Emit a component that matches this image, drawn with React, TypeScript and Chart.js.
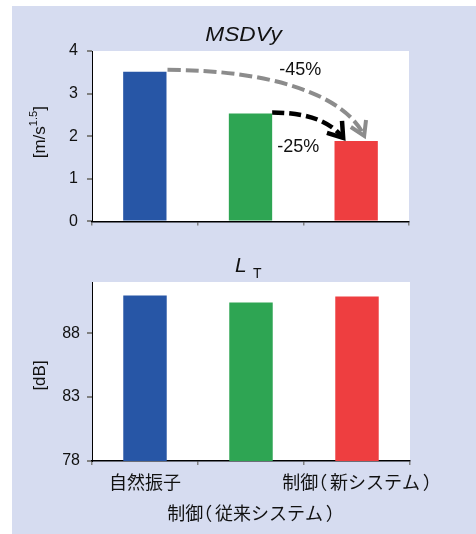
import React, { useEffect, useRef } from 'react';
import { Chart, registerables } from 'chart.js';

Chart.register(...registerables);

// Categories and measured values
const categories = ['自然振子', '制御（従来システム）', '制御（新システム）'];
const msdvValues = [3.51, 2.53, 1.89];
const ltValues = [90.95, 90.4, 90.87];
const msdvTicks = [0, 1, 2, 3, 4];
const ltTicks = [78, 83, 88];
const barColors = ['#2756a6', '#2ea553', '#ee3e40'];
const reductionLabels = ['-45%', '-25%'];

const LATIN = "'Liberation Sans', Arial, sans-serif";
const CJK = "'Noto Sans CJK JP', 'Noto Sans CJK SC', sans-serif";
const TEXT = '#111111';

// White plot background
const plotBackground = {
  id: 'plotBackground',
  beforeDraw(chart: any) {
    const { ctx, chartArea: a } = chart;
    ctx.save();
    ctx.fillStyle = '#ffffff';
    ctx.fillRect(a.left, a.top, a.right - a.left, a.bottom - a.top);
    ctx.restore();
  },
};

type Pt = { x: number; y: number };

function drawCurvedArrow(
  ctx: CanvasRenderingContext2D,
  p0: Pt, p1: Pt, p2: Pt, p3: Pt,
  color: string, width: number, dash: number[], headLen: number, spread: number
) {
  ctx.save();
  ctx.strokeStyle = color;
  ctx.lineWidth = width;
  ctx.lineCap = 'butt';
  ctx.setLineDash(dash);
  ctx.beginPath();
  ctx.moveTo(p0.x, p0.y);
  ctx.bezierCurveTo(p1.x, p1.y, p2.x, p2.y, p3.x, p3.y);
  ctx.stroke();
  ctx.setLineDash([]);
  ctx.lineJoin = 'miter';
  const ang = Math.atan2(p3.y - p2.y, p3.x - p2.x);
  ctx.beginPath();
  ctx.moveTo(p3.x - headLen * Math.cos(ang - spread), p3.y - headLen * Math.sin(ang - spread));
  ctx.lineTo(p3.x, p3.y);
  ctx.lineTo(p3.x - headLen * Math.cos(ang + spread), p3.y - headLen * Math.sin(ang + spread));
  ctx.stroke();
  ctx.restore();
}

// Japanese label with narrow (proportional) brackets, centred on cx
function drawCompactLabel(ctx: CanvasRenderingContext2D, text: string, cx: number, cy: number, size: number) {
  ctx.save();
  ctx.font = `${size}px ${CJK}`;
  ctx.fillStyle = TEXT;
  ctx.textAlign = 'left';
  ctx.textBaseline = 'middle';
  const chars = Array.from(text);
  const isBracket = (c: string) => c === '（' || c === '）';
  const cells = chars.map((c) => (isBracket(c) ? size * 0.65 : ctx.measureText(c).width));
  const total = cells.reduce((s, w) => s + w, 0);
  let x = cx - total / 2;
  chars.forEach((c, i) => {
    if (isBracket(c)) {
      const m = ctx.measureText(c);
      const inkCenter = (m.actualBoundingBoxRight - m.actualBoundingBoxLeft) / 2;
      ctx.fillText(c, x + cells[i] / 2 - inkCenter, cy);
    } else {
      ctx.fillText(c, x, cy);
    }
    x += cells[i];
  });
  ctx.restore();
}

// Title, unit label and reduction arrows for the MSDVy panel
const msdvDecor = {
  id: 'msdvDecor',
  afterDatasetsDraw(chart: any) {
    const { ctx } = chart;
    const bars = chart.getDatasetMeta(0).data as any[];
    const [b0, b1, b2] = bars;

    const g0 = { x: b0.x + b0.width / 2 + 1, y: b0.y - 2 };
    drawCurvedArrow(
      ctx,
      g0,
      { x: g0.x + 103, y: g0.y },
      { x: b2.x - 11, y: b0.y + 23 },
      { x: b2.x + 8, y: b2.y - 5 },
      '#8c8c8c', 4, [13, 5], 16, 0.55
    );
    const k0 = { x: b1.x + b1.width / 2, y: b1.y - 1 };
    drawCurvedArrow(
      ctx,
      k0,
      { x: k0.x + 28, y: k0.y },
      { x: b2.x - 29, y: b1.y + 4 },
      { x: b2.x - 13, y: b2.y - 3 },
      '#000000', 4.5, [12, 5], 17, 0.6
    );

    ctx.save();
    ctx.fillStyle = TEXT;
    ctx.font = `18px ${LATIN}`;
    ctx.textAlign = 'left';
    ctx.textBaseline = 'alphabetic';
    ctx.fillText(reductionLabels[0], b2.x - 77, b0.y + 3);
    ctx.fillText(reductionLabels[1], b2.x - 79, b2.y + 11);
    ctx.restore();
  },
  afterDraw(chart: any) {
    const { ctx, chartArea: a } = chart;
    ctx.save();
    ctx.fillStyle = TEXT;
    ctx.font = `italic 21px ${LATIN}`;
    ctx.textAlign = 'center';
    ctx.textBaseline = 'alphabetic';
    ctx.save();
    ctx.translate((a.left + a.right) / 2 - 7, a.top - 10);
    ctx.scale(1.08, 1);
    ctx.fillText('MSDVy', 0, 0);
    ctx.restore();

    // "[m/s^1.5]" rotated
    const main = `17px ${LATIN}`;
    const sup = `11px ${LATIN}`;
    ctx.font = main;
    const w1 = ctx.measureText('[m/s').width;
    const w3 = ctx.measureText(']').width;
    ctx.font = sup;
    const w2 = ctx.measureText('1.5').width;
    const total = w1 + w2 + w3;
    ctx.translate(40, (a.top + a.bottom) / 2 - 4);
    ctx.rotate(-Math.PI / 2);
    ctx.textAlign = 'left';
    ctx.textBaseline = 'middle';
    let x = -total / 2;
    ctx.font = main;
    ctx.fillText('[m/s', x, 0);
    x += w1;
    ctx.font = sup;
    ctx.fillText('1.5', x, -6);
    x += w2;
    ctx.font = main;
    ctx.fillText(']', x, 0);
    ctx.restore();
  },
};

// Title, unit label and category labels for the L_T panel
const ltDecor = {
  id: 'ltDecor',
  afterDraw(chart: any) {
    const { ctx, chartArea: a } = chart;
    const cx = (a.left + a.right) / 2;
    ctx.save();
    ctx.fillStyle = TEXT;
    ctx.textAlign = 'left';
    ctx.textBaseline = 'alphabetic';
    ctx.font = `italic 21px ${LATIN}`;
    ctx.fillText('L', cx - 16, a.top - 10);
    ctx.font = `14px ${LATIN}`;
    ctx.fillText('T', cx + 2, a.top - 4);

    ctx.font = `17px ${LATIN}`;
    ctx.translate(40, (a.top + a.bottom) / 2 + 4);
    ctx.rotate(-Math.PI / 2);
    ctx.textAlign = 'center';
    ctx.textBaseline = 'middle';
    ctx.fillText('[dB]', 0, 0);
    ctx.restore();

    // category labels, the middle one on a second row
    const xs = chart.scales.x;
    categories.forEach((label, i) => {
      const px = xs.getPixelForTick(i);
      const py = a.bottom + (i === 1 ? 52 : 21);
      drawCompactLabel(ctx, label, px, py, 18);
    });
  },
};

function yAxis(min: number, max: number, tickValues: number[], padding: number) {
  return {
    min,
    max,
    afterBuildTicks(scale: any) {
      scale.ticks = tickValues.map((v) => ({ value: v }));
    },
    afterFit(scale: any) {
      scale.width = 60;
    },
    border: { display: true, color: '#000000', width: 1 },
    grid: {
      display: true,
      drawOnChartArea: false,
      drawTicks: true,
      tickLength: 5,
      color: '#808080',
      lineWidth: 2,
    },
    ticks: {
      color: TEXT,
      font: { family: LATIN, size: 16 },
      padding,
    },
  };
}

function makeConfig(values: number[], xHeight: number, y: any, padding: any, decor: any) {
  return {
    type: 'bar' as const,
    data: {
      labels: categories,
      datasets: [
        {
          data: values,
          backgroundColor: barColors,
          borderWidth: 0,
          categoryPercentage: 1,
          barPercentage: 0.41,
        },
      ],
    },
    options: {
      responsive: false,
      animation: false as const,
      devicePixelRatio: 1,
      layout: { padding },
      plugins: {
        legend: { display: false },
        tooltip: { enabled: false },
        title: { display: false },
      },
      scales: {
        x: {
          offset: true,
          afterFit(scale: any) {
            scale.height = xHeight;
          },
          border: { display: true, color: '#000000', width: 1.5 },
          grid: {
            display: true,
            offset: true,
            drawOnChartArea: false,
            drawTicks: true,
            tickLength: 4,
            color: '#808080',
            lineWidth: 1.5,
          },
          ticks: { display: false },
        },
        y,
      },
    },
    plugins: [plotBackground, decor],
  };
}

export default function App() {
  const topRef = useRef<HTMLCanvasElement>(null);
  const bottomRef = useRef<HTMLCanvasElement>(null);

  useEffect(() => {
    const top = new Chart(
      topRef.current!,
      makeConfig(
        msdvValues,
        10,
        yAxis(0, 4, msdvTicks, 9),
        { left: 32, right: 67, top: 51, bottom: 8 },
        msdvDecor
      ) as any
    );
    const bottom = new Chart(
      bottomRef.current!,
      makeConfig(
        ltValues,
        60,
        yAxis(78, 92, ltTicks, 7),
        { left: 32, right: 66, top: 42, bottom: 13 },
        ltDecor
      ) as any
    );
    return () => {
      top.destroy();
      bottom.destroy();
    };
  }, []);

  return (
    <div style={{ position: 'absolute', left: 0, top: 0, width: 476, height: 534, background: '#ffffff', overflow: 'hidden' }}>
      <div style={{ position: 'absolute', left: 12, top: 6, width: 464, height: 528, background: '#d6dcf0' }} />
      <canvas ref={topRef} width={476} height={240} style={{ position: 'absolute', left: 0, top: 0 }} />
      <canvas ref={bottomRef} width={476} height={294} style={{ position: 'absolute', left: 0, top: 240 }} />
    </div>
  );
}
